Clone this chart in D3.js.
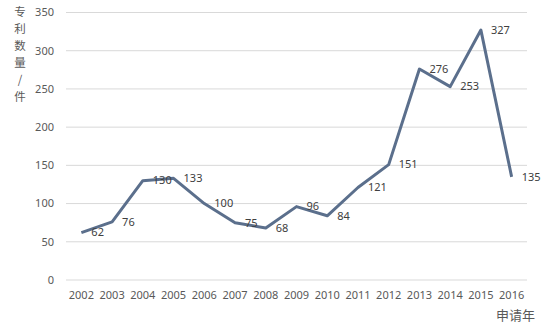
<!DOCTYPE html>
<html><head><meta charset="utf-8">
<script src="https://cdn.jsdelivr.net/npm/d3@7"></script>
<style>body{margin:0;background:#fff;} text{font-family:"Noto Sans","Noto Sans CJK SC",sans-serif;}</style>
</head><body>
<svg id="c" width="542" height="336"></svg>
<script>
const years = ["2002","2003","2004","2005","2006","2007","2008","2009","2010","2011","2012","2013","2014","2015","2016"];
const counts = [62,76,130,133,100,75,68,96,84,121,151,276,253,327,135];
const yTicks = [0,50,100,150,200,250,300,350];
const yTitle = ["专","利","数","量","/","件"];
const xTitle = "申请年";

(function(){
const svg = d3.select("#c");
const mLeft = 66, mRight = 527, mTop = 12.5, mBottom = 280;
const x = d3.scaleBand().domain(years).range([mLeft, mRight]);
const y = d3.scaleLinear().domain([0,350]).range([mBottom, mTop]);

svg.append("g").selectAll("line").data(yTicks).join("line")
  .attr("x1", mLeft).attr("x2", mRight)
  .attr("y1", d=>y(d)).attr("y2", d=>y(d))
  .attr("stroke", "#d9d9d9").attr("stroke-width", 1);

svg.append("g").selectAll("text").data(yTicks).join("text")
  .attr("x", 54).attr("y", d=>y(d)).attr("dy","0.35em")
  .attr("text-anchor","end").attr("font-size",11).attr("fill","#595959")
  .text(d=>d);

svg.append("g").selectAll("text").data(years).join("text")
  .attr("x", d=>x(d)+x.bandwidth()/2).attr("y", 295).attr("dy","0.35em")
  .attr("text-anchor","middle").attr("font-size",11).attr("fill","#595959")
  .text(d=>d);

const data = years.map((yr,i)=>({yr, v:counts[i]}));
svg.append("path").datum(data)
  .attr("fill","none").attr("stroke","#5b6f8c").attr("stroke-width",3)
  .attr("stroke-linejoin","round")
  .attr("d", d3.line().x(d=>x(d.yr)+x.bandwidth()/2).y(d=>y(d.v)));

svg.append("g").selectAll("text").data(data).join("text")
  .attr("x", d=>x(d.yr)+x.bandwidth()/2+10).attr("y", d=>y(d.v)).attr("dy","0.35em")
  .attr("font-size",11).attr("fill","#404040")
  .text(d=>d.v);

svg.append("g").selectAll("text").data(yTitle).join("text")
  .attr("x", 20).attr("y", (d,i)=>12+i*17).attr("dy","0.35em")
  .attr("text-anchor","middle").attr("font-size",11.5).attr("fill","#595959")
  .style("font-family","'Noto Sans CJK SC'")
  .text(d=>d);

svg.append("text").attr("x", 535).attr("y", 315).attr("dy","0.35em")
  .attr("text-anchor","end").attr("font-size",13).attr("fill","#595959")
  .style("font-family","'Noto Sans CJK SC'")
  .text(xTitle);
})();
</script>
</body></html>
